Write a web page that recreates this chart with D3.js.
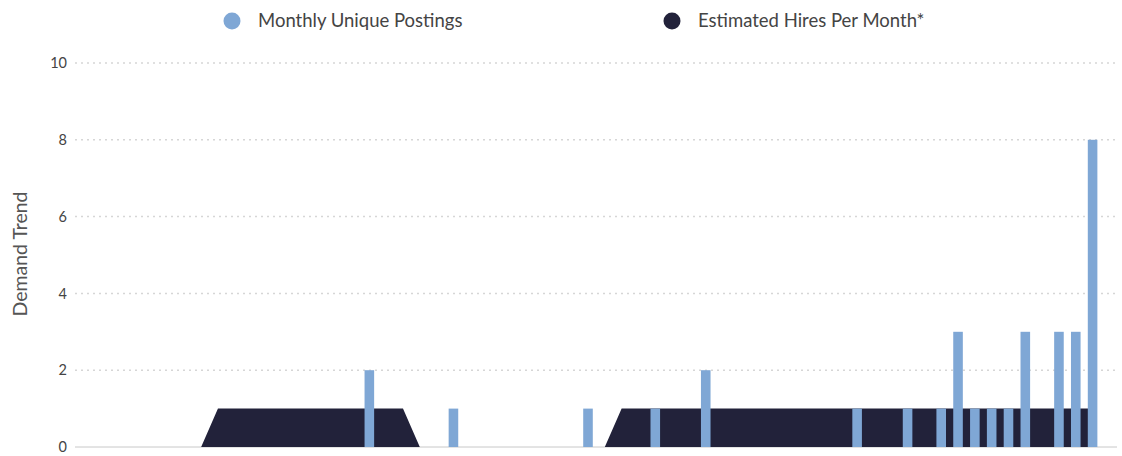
<!DOCTYPE html>
<html>
<head>
<meta charset="utf-8">
<script src="https://cdn.jsdelivr.net/npm/d3@7/dist/d3.min.js"></script>
<style>
  html, body { margin: 0; padding: 0; background: #fff; }
  svg { display: block; font-family: Lato, "Open Sans", sans-serif; }
</style>
</head>
<body>
<svg id="chart" width="1122" height="456"></svg>
<script>
// Monthly series, oldest month first (61 months)
const months = d3.range(61);

const uniquePostings = [
  0, 0, 0, 0, 0, 0, 0, 0, 0, 0,
  0, 0, 0, 0, 0, 0, 0, 2, 0, 0,
  0, 0, 1, 0, 0, 0, 0, 0, 0, 0,
  1, 0, 0, 0, 1, 0, 0, 2, 0, 0,
  0, 0, 0, 0, 0, 0, 1, 0, 0, 1,
  0, 1, 3, 1, 1, 1, 3, 0, 3, 3,
  8
];

const estimatedHires = [
  0, 0, 0, 0, 0, 0, 0, 0, 1, 1,
  1, 1, 1, 1, 1, 1, 1, 1, 1, 1,
  0, 0, 0, 0, 0, 0, 0, 0, 0, 0,
  0, 0, 1, 1, 1, 1, 1, 1, 1, 1,
  1, 1, 1, 1, 1, 1, 1, 1, 1, 1,
  1, 1, 1, 1, 1, 1, 1, 1, 1, 1,
  1
];

const yTicks = [0, 2, 4, 6, 8, 10];

const seriesNames = ["Monthly Unique Postings", "Estimated Hires Per Month*"];
const seriesColors = ["#7fa7d5", "#22223a"];

const svg = d3.select("#chart");

const plot = { left: 75, right: 1117, top: 63, bottom: 447 };

const x = d3.scalePoint()
  .domain(months)
  .range([plot.left, 1101])
  .padding(0.5);

const y = d3.scaleLinear()
  .domain([0, 10])
  .range([plot.bottom, plot.top]);

const barWidth = x.step() * 0.57;

// Horizontal dotted gridlines
svg.append("g")
  .selectAll("line")
  .data(yTicks.filter(d => d > 0))
  .join("line")
  .attr("x1", plot.left)
  .attr("x2", plot.right)
  .attr("y1", d => y(d))
  .attr("y2", d => y(d))
  .attr("stroke", "#d6d6d6")
  .attr("stroke-width", 1.5)
  .attr("stroke-dasharray", "2,4");

// Baseline
svg.append("line")
  .attr("x1", plot.left)
  .attr("x2", plot.right)
  .attr("y1", y(0))
  .attr("y2", y(0))
  .attr("stroke", "#c8c8c8")
  .attr("stroke-width", 1);

// Y axis labels
const yAxis = d3.axisLeft(y).tickValues(yTicks).tickSize(0).tickPadding(8);
const yg = svg.append("g")
  .attr("transform", `translate(${plot.left},0)`)
  .call(yAxis);
yg.select(".domain").remove();
yg.selectAll("text")
  .attr("font-family", "Lato, sans-serif")
  .attr("font-size", 14.5)
  .attr("fill", "#444");

// Y axis title
svg.append("text")
  .attr("transform", `translate(27,254) rotate(-90)`)
  .attr("text-anchor", "middle")
  .attr("font-size", 19.5)
  .attr("fill", "#555")
  .text("Demand Trend");

// Estimated hires area
const area = d3.area()
  .x((d, i) => x(months[i]))
  .y0(y(0))
  .y1(d => y(d))
  .curve(d3.curveLinear);

svg.append("path")
  .datum(estimatedHires)
  .attr("d", area)
  .attr("fill", seriesColors[1]);

// Unique postings bars
svg.append("g")
  .selectAll("rect")
  .data(uniquePostings.map((v, i) => ({ m: months[i], v })).filter(d => d.v > 0))
  .join("rect")
  .attr("x", d => x(d.m) - barWidth / 2)
  .attr("width", barWidth)
  .attr("y", d => y(d.v))
  .attr("height", d => y(0) - y(d.v))
  .attr("fill", seriesColors[0]);

// Legend
const legendPos = [232, 672];
const legend = svg.append("g");
seriesNames.forEach((name, i) => {
  legend.append("circle")
    .attr("cx", legendPos[i])
    .attr("cy", 21)
    .attr("r", 8.5)
    .attr("fill", seriesColors[i]);
  legend.append("text")
    .attr("x", legendPos[i] + 26)
    .attr("y", 21)
    .attr("dy", "0.35em")
    .attr("font-size", 18.5)
    .attr("fill", "#444")
    .text(name);
});
</script>
</body>
</html>
